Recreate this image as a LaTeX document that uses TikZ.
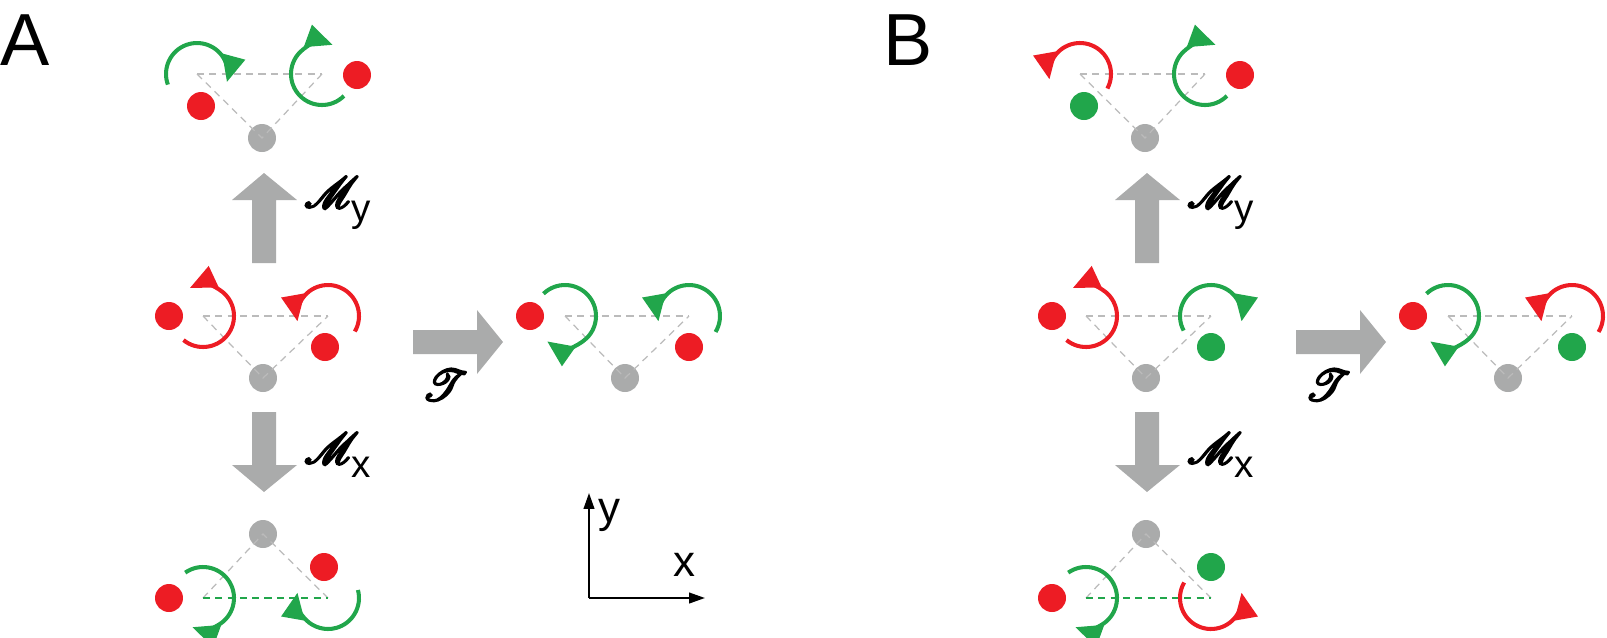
\documentclass[tikz,border=0pt]{standalone}
\usepackage{fontspec}
\usepackage{mathrsfs}
\setmainfont{Liberation Sans}
\usetikzlibrary{arrows.meta}
\definecolor{rd}{HTML}{ED1C24}
\definecolor{gn}{HTML}{21A64B}
\definecolor{gy}{HTML}{AAABAB}
\definecolor{dg}{HTML}{BBBBBB}
\tikzset{
 dotn/.style={circle,inner sep=0pt,minimum size=0.56cm},
 tri/.style={dg,line width=0.7pt,dash pattern=on 4pt off 3pt},
 spin/.style={line width=2.3pt,-{Triangle[length=15pt,width=13pt]}},
 bigarr/.style={fill=gy,draw=none},
 lab/.style={font=\fontsize{44}{44}\selectfont,inner sep=0pt},
}
\newcommand{\boldon}{\special{pdf:literal direct 2 Tr 1.2 w}}
\newcommand{\boldoff}{\special{pdf:literal direct 0 Tr 0 w}}
\newcommand{\site}[5]{\draw[spin,#3] ([shift={(#4:0.62cm)}]#1,-#2) arc[start angle=#4,end angle=#5,radius=0.62cm];}
\newcommand{\triad}[8]{% name, Lx,Ly,Rx,Ry,Bx,By, basestyle
 \coordinate (#1L) at (#2,-#3); \coordinate (#1R) at (#4,-#5);
 \node[dotn,fill=gy] (#1B) at (#6,-#7) {};
 \draw[tri] (#1L) -- (#1B.center) -- (#1R);
 \draw[tri,#8] (#1L) -- (#1R);}
\newcommand{\Mlab}[1]{\boldon$\mathscr{M}$\boldoff\kern-4pt\raisebox{-8pt}{\fontsize{22}{22}\selectfont #1}}
\begin{document}
\begin{tikzpicture}[x=0.02cm,y=0.02cm]
\useasboundingbox (0,0) rectangle (1607,-637);
\foreach \dx/\nm in {0/a,883/b}{
 \begin{scope}[xshift=\dx*0.02cm]
 \fill[bigarr] (252,-263) -- (252,-200) -- (232,-200) -- (264,-173) -- (297,-200) -- (276,-200) -- (276,-263) -- cycle;
 \fill[bigarr] (252,-412) -- (252,-465) -- (232,-465) -- (264,-492) -- (297,-465) -- (276,-465) -- (276,-412) -- cycle;
 \fill[bigarr] (413,-330) -- (477,-330) -- (477,-310) -- (503,-342) -- (477,-374) -- (477,-354) -- (413,-354) -- cycle;
 \node[lab,anchor=south west] (\nm my) at (304,-230) {\Mlab{y}};
 \node[lab,anchor=south west] (\nm mx) at (304,-478) {\Mlab{x}};
 \node[lab] (\nm t) at (445,-385) {\boldon$\mathscr{T}$\boldoff};
 \triad{\nm1}{197}{74}{322}{74}{262}{138}{}
 \triad{\nm2}{203}{316}{328}{316}{263}{378}{}
 \triad{\nm3}{203}{598}{328}{598}{263}{534}{gn}
 \triad{\nm4}{565}{316}{689}{316}{625}{378}{}
 \end{scope}}
\node[font=\fontsize{42}{42}\selectfont,inner sep=0pt] (labA) at (25,-40) {A};
\node[font=\fontsize{42}{42}\selectfont,inner sep=0pt] (labB) at (908,-40) {B};
% panel A spins
\site{197}{74}{gn}{200}{-15}
\site{322}{74}{gn}{-45}{-290}
\node[dotn,fill=rd] (a1a) at (201,-106) {}; \node[dotn,fill=rd] (a1b) at (357,-75) {};
\site{203}{316}{rd}{231}{475}
\site{328}{316}{rd}{-30}{190}
\node[dotn,fill=rd] (a2a) at (169,-316) {}; \node[dotn,fill=rd] (a2b) at (325,-347) {};
\site{203}{598}{gn}{125}{-110}
\site{328}{598}{gn}{15}{-190}
\node[dotn,fill=rd] (a3a) at (169,-598) {}; \node[dotn,fill=rd] (a3b) at (324,-567) {};
\site{565}{316}{gn}{134}{-125}
\site{689}{316}{gn}{-31}{190}
\node[dotn,fill=rd] (a4a) at (530,-316) {}; \node[dotn,fill=rd] (a4b) at (689,-347) {};
% panel B spins
\site{1080}{74}{rd}{-28}{190}
\site{1205}{74}{gn}{-45}{-290}
\node[dotn,fill=gn] (b1a) at (1084,-106) {}; \node[dotn,fill=rd] (b1b) at (1240,-75) {};
\site{1086}{316}{rd}{231}{475}
\site{1211}{316}{gn}{208}{-10}
\node[dotn,fill=rd] (b2a) at (1052,-316) {}; \node[dotn,fill=gn] (b2b) at (1211,-347) {};
\site{1086}{598}{gn}{125}{-110}
\site{1211}{598}{rd}{150}{370}
\node[dotn,fill=rd] (b3a) at (1052,-598) {}; \node[dotn,fill=gn] (b3b) at (1211,-567) {};
\site{1448}{316}{gn}{134}{-125}
\site{1572}{316}{rd}{-31}{190}
\node[dotn,fill=rd] (b4a) at (1413,-316) {}; \node[dotn,fill=gn] (b4b) at (1572,-347) {};
% axes
\coordinate (o) at (589,-598); \coordinate (ty) at (589,-493); \coordinate (tx) at (705,-598);
\draw[line width=1.2pt,-{Triangle[length=9pt,width=6pt]}] (o) -- (ty);
\draw[line width=1.2pt,-{Triangle[length=9pt,width=6pt]}] (o) -- (tx);
\node[font=\fontsize{25}{25}\selectfont,inner sep=0pt] (ly) at (609,-515) {y};
\node[font=\fontsize{25}{25}\selectfont,inner sep=0pt] (lx) at (684,-565) {x};
\end{tikzpicture}
\end{document}
